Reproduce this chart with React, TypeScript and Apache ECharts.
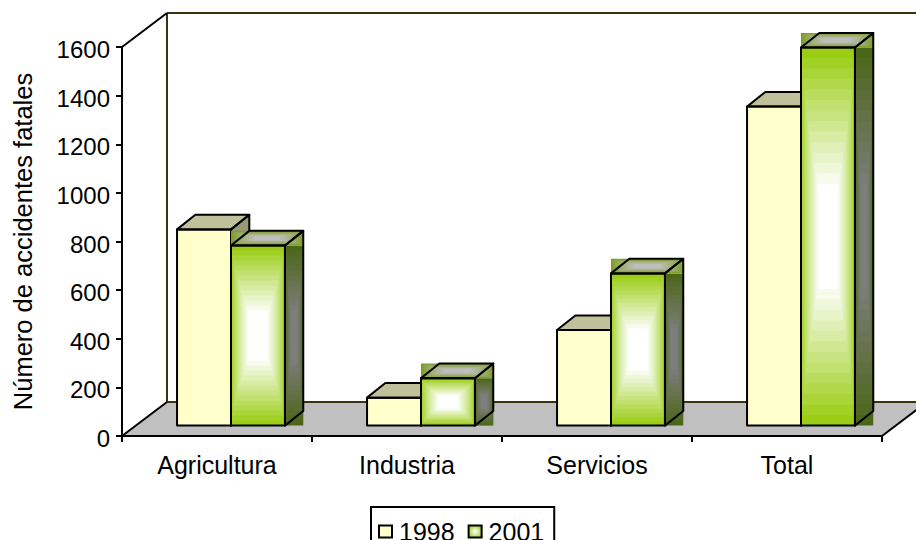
import React, { useEffect, useRef } from "react";
import * as echarts from "echarts";

const categories = ["Agricultura", "Industria", "Servicios", "Total"];
const values1998 = [807, 115, 393, 1312];
const values2001 = [741, 195, 626, 1555];
const yMax = 1600;
const yStep = 200;
const yTitle = "Número de accidentes fatales";

const FONT = "Liberation Sans";
const INK = "#000000";
const WALL = "#3a3210";
const WALL_DX = 45;
const WALL_DY = 34;
const BAR_SHIFT_X = 14;
const BAR_SHIFT_Y = 10.4;
const BAR_BAND = 0.284;
const BAR_DX = 18.3;
const BAR_DY = 14.6;

type RGB = [number, number, number];
const mix = (a: RGB, b: RGB, t: number) => {
  const c = a.map((v, i) => Math.round(v + (b[i] - v) * t));
  return `rgb(${c[0]},${c[1]},${c[2]})`;
};

const concentric = (x: number, y: number, w: number, h: number, edge: RGB, center: RGB, steps = 18) => {
  const out: any[] = [];
  for (let i = 0; i < steps; i++) {
    const t = i / steps;
    const ix = Math.pow(t, 1.4);
    out.push({
      type: "rect",
      shape: { x: x + (w / 2) * ix, y: y + (h / 2) * t, width: w * (1 - ix), height: h * (1 - t) },
      style: { fill: mix(edge, center, Math.min(1, (i / (steps - 1)) * 1.3)) },
      silent: true,
    });
  }
  return out;
};

const outline = (points: number[][]) => ({
  type: "polygon",
  shape: { points },
  style: { fill: "none", stroke: INK, lineWidth: 2, lineJoin: "round" },
  silent: true,
});

const renderBar = (seriesPos: number) => (_params: any, api: any) => {
  const cat = api.value(0);
  const val = api.value(1);
  const bandW = api.size([1, 0])[0];
  const w = bandW * BAR_BAND;
  const [cx, y0raw] = api.coord([cat, 0]);
  const [, y1raw] = api.coord([cat, val]);
  const x = cx + BAR_SHIFT_X + (seriesPos === 0 ? -w : 0);
  const base = y0raw - BAR_SHIFT_Y;
  const top = y1raw - BAR_SHIFT_Y;
  const h = base - top;
  const children: any[] = [];
  const topFace = [[x, top], [x + BAR_DX, top - BAR_DY], [x + w + BAR_DX, top - BAR_DY], [x + w, top]];
  const sideFace = [[x + w, top], [x + w + BAR_DX, top - BAR_DY], [x + w + BAR_DX, base - BAR_DY], [x + w, base]];
  const frontFace = [[x, top], [x + w, top], [x + w, base], [x, base]];
  if (seriesPos === 0) {
    children.push({ type: "polygon", shape: { points: sideFace }, style: { fill: "#99997a" }, silent: true });
    children.push({ type: "polygon", shape: { points: topFace }, style: { fill: "#c0c09a" }, silent: true });
    children.push({ type: "polygon", shape: { points: frontFace }, style: { fill: "#ffffcc" }, silent: true });
  } else {
    children.push(...concentric(x + w, top, BAR_DX, h, [76, 102, 24], [126, 126, 126]));
    children.push(...concentric(x, top - BAR_DY, w + BAR_DX, BAR_DY, [122, 156, 28], [190, 190, 190]));
    children.push(...concentric(x, top, w, h, [154, 205, 20], [255, 255, 255]));
  }
  children.push(outline(sideFace), outline(topFace), outline(frontFace));
  return { type: "group", children };
};

const renderWalls = (params: any) => {
  const { x, y, width, height } = params.coordSys;
  const bottom = y + height;
  const right = x + width;
  const line = (x1: number, y1: number, x2: number, y2: number, stroke: string) => ({
    type: "line",
    shape: { x1, y1, x2, y2 },
    style: { stroke, lineWidth: 2 },
    silent: true,
  });
  return {
    type: "group",
    children: [
      {
        type: "polygon",
        shape: {
          points: [[x, bottom], [x + WALL_DX, bottom - WALL_DY], [right + WALL_DX, bottom - WALL_DY], [right, bottom]],
        },
        style: { fill: "#c0c0c0" },
        silent: true,
      },
      line(x + WALL_DX, y - WALL_DY, x + WALL_DX, bottom - WALL_DY, WALL),
      line(x + WALL_DX, y - WALL_DY, right + WALL_DX, y - WALL_DY, WALL),
      line(x + WALL_DX, bottom - WALL_DY, right + WALL_DX, bottom - WALL_DY, WALL),
      line(x, y, x + WALL_DX, y - WALL_DY, INK),
      line(x, bottom, x + WALL_DX, bottom - WALL_DY, INK),
      line(right, bottom, right + WALL_DX, bottom - WALL_DY, INK),
    ],
  };
};

export default function App() {
  const ref = useRef<HTMLDivElement>(null);
  useEffect(() => {
    const chart = echarts.init(ref.current!, undefined, { renderer: "svg" });
    const barSeries = (name: string, values: number[], pos: number, z: number) => ({
      type: "custom",
      name,
      coordinateSystem: "cartesian2d",
      z,
      clip: false,
      itemStyle: { color: pos === 0 ? "#ffffcc" : "#9acd14" },
      data: values.map((v, i) => [i, v]),
      encode: { x: 0, y: 1 },
      renderItem: renderBar(pos),
    });
    chart.setOption({
      animation: false,
      backgroundColor: "#ffffff",
      textStyle: { fontFamily: FONT },
      grid: { left: 122, right: 34, top: 47, bottom: 104, containLabel: false, outerBoundsMode: "none" },
      legend: {
        left: 371,
        top: 507,
        orient: "horizontal",
        itemWidth: 13,
        itemHeight: 12,
        itemGap: 13,
        padding: [12, 10, 14, 7],
        borderColor: INK,
        borderWidth: 2,
        selectedMode: false,
        textStyle: { fontFamily: FONT, fontSize: 25, lineHeight: 18, color: INK, padding: [5, 0, 0, 2] },
        data: [
          { name: "1998", icon: "rect", itemStyle: { color: "#ffffcc", borderColor: INK, borderWidth: 2 } },
          {
            name: "2001",
            icon: "rect",
            itemStyle: {
              color: {
                type: "radial",
                x: 0.5,
                y: 0.5,
                r: 0.6,
                colorStops: [
                  { offset: 0, color: "#ffffff" },
                  { offset: 1, color: "#9acd14" },
                ],
              },
              borderColor: INK,
              borderWidth: 2,
            },
          },
        ],
      },
      xAxis: {
        type: "category",
        data: categories,
        z: 5,
        axisLine: { lineStyle: { color: INK, width: 2 } },
        axisTick: { show: true, length: 6, lineStyle: { color: INK, width: 2 } },
        axisLabel: { fontFamily: FONT, fontSize: 25, color: INK, margin: 16 },
        splitLine: { show: false },
      },
      yAxis: {
        type: "value",
        min: 0,
        max: yMax,
        interval: yStep,
        z: 5,
        name: yTitle,
        nameLocation: "middle",
        nameRotate: 90,
        nameGap: 82,
        nameTextStyle: { fontFamily: FONT, fontSize: 25.5, color: INK, padding: [0, 0, 4, 0] },
        axisLine: { show: true, lineStyle: { color: INK, width: 2 } },
        axisTick: { show: true, length: 6, lineStyle: { color: INK, width: 2 } },
        axisLabel: {
          fontFamily: FONT,
          fontSize: 24,
          color: INK,
          margin: 12,
          formatter: (v: number) => `{n|${v}}`,
          rich: { n: { fontFamily: FONT, fontSize: 24, color: INK, padding: [5, 0, 0, 0] } },
        },
        splitLine: { show: false },
      },
      series: [
        {
          type: "custom",
          name: "walls",
          coordinateSystem: "cartesian2d",
          z: 1,
          clip: false,
          data: [[0, 0]],
          encode: { x: 0, y: 1 },
          renderItem: renderWalls,
        },
        barSeries("1998", values1998, 0, 2),
        barSeries("2001", values2001, 1, 3),
      ],
    });
    return () => chart.dispose();
  }, []);
  return <div ref={ref} style={{ position: "fixed", left: 0, top: 0, width: 916, height: 540 }} />;
}
